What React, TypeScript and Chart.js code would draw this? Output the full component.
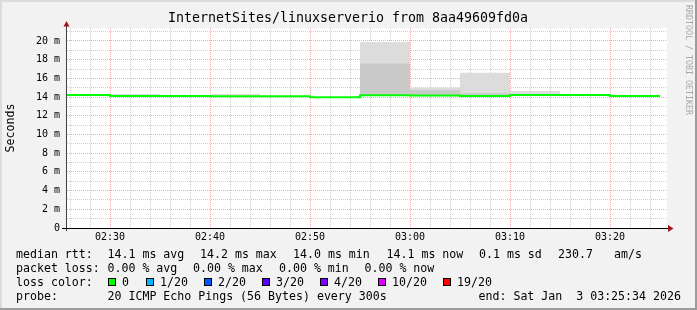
import React, { useEffect, useRef } from 'react';
import { Chart, registerables } from 'chart.js';

Chart.register(...registerables);

// ---------- data ----------
const binStarts = ['02:25', '02:30', '02:35', '02:40', '02:45', '02:50', '02:55', '03:00', '03:05', '03:10', '03:15', '03:20', '03:25'];
const medianRtt = [14.22, 14.12, 14.12, 14.1, 14.1, 13.98, 14.2, 14.17, 14.12, 14.22, 14.22, 14.12];
const smokeMax = [14.22, 14.32, 14.12, 14.32, 14.1, 13.98, 19.9, 15.0, 16.6, 14.65, 14.22, 14.12];
const smokeInner = [14.22, 14.12, 14.12, 14.1, 14.1, 13.98, 17.6, 14.75, 14.42, 14.22, 14.22, 14.12];
const smokeMin = [14.22, 14.12, 14.12, 14.1, 14.1, 13.98, 14.2, 14.17, 14.12, 14.22, 14.22, 14.12];

const xTickLabels = ['02:30', '02:40', '02:50', '03:00', '03:10', '03:20'];
const yTickValues = [0, 2, 4, 6, 8, 10, 12, 14, 16, 18, 20];
const yMinorValues = [1, 3, 5, 7, 9, 11, 13, 15, 17, 19, 21];
const xMinorLabels = ['02:26', '02:28', '02:32', '02:34', '02:36', '02:38', '02:42', '02:44', '02:46', '02:48', '02:52', '02:54', '02:56', '02:58', '03:02', '03:04', '03:06', '03:08', '03:12', '03:14', '03:16', '03:18', '03:22', '03:24'];
const axisStart = '02:25:42';
const axisEnd = '03:25:42';
const yMax = 21.39;

const titleText = 'InternetSites/linuxserverio from 8aa49609fd0a';
const yAxisTitle = 'Seconds';
const watermark = 'RRDTOOL / TOBI OETIKER';

const rttLabel = 'median rtt:';
const rttStats = ['14.1 ms avg', '14.2 ms max', '14.0 ms min', '14.1 ms now', '0.1 ms sd', '230.7', 'am/s'];
const lossLabel = 'packet loss:';
const lossStats = ['0.00 % avg', '0.00 % max', '0.00 % min', '0.00 % now'];
const lossColorLabel = 'loss color:';
const lossColorNames = ['0', '1/20', '2/20', '3/20', '4/20', '10/20', '19/20'];
const lossColors = ['#00ff00', '#00b8ff', '#0059ff', '#5e00ff', '#7e00ff', '#dd00ff', '#ff0000'];
const probeLabel = 'probe:';
const probeText = '20 ICMP Echo Pings (56 Bytes) every 300s';
const endText = 'end: Sat Jan  3 03:25:34 2026';

// ---------- helpers ----------
const toMin = (s: string) => {
  const p = s.split(':').map(Number);
  return p[0] * 60 + p[1] + (p[2] || 0) / 60;
};
const fmt = (v: number) => {
  const h = Math.floor(v / 60);
  const m = Math.round(v - h * 60);
  return `${String(h).padStart(2, '0')}:${String(m).padStart(2, '0')}`;
};
const pts = (vals: number[]) =>
  binStarts.map((t, i) => ({ x: toMin(t), y: vals[Math.min(i, vals.length - 1)] }));

const MONO = '"DejaVu Sans Mono", monospace';

// layout constants (drawing only)
const W = 697;
const H = 310;
const rttX = [107.5, 200, 293, 386.5, 479, 558, 614];
const lossX = [107.5, 193, 279, 364.5];
const boxX = [108, 146, 204, 262, 320, 378, 443];
const boxTextGap = 14;

const decorPlugin = {
  id: 'decor',
  beforeDraw(chart: any) {
    const { ctx, chartArea: a } = chart;
    ctx.save();
    ctx.fillStyle = '#f2f2f2';
    ctx.fillRect(0, 0, W, H);
    // frame
    ctx.fillStyle = '#dcdcdc';
    ctx.fillRect(0, 0, W, 2);
    ctx.fillRect(0, 0, 2, H);
    ctx.fillStyle = '#9c9c9c';
    ctx.fillRect(W - 2, 0, 2, H);
    ctx.fillRect(0, H - 2, W, 2);
    ctx.fillStyle = '#ffffff';
    ctx.fillRect(a.left, a.top, a.right - a.left, a.bottom - a.top);
    ctx.restore();
  },
  afterDraw(chart: any) {
    const { ctx, chartArea: a } = chart;
    ctx.save();
    // y axis
    ctx.strokeStyle = '#404040';
    ctx.lineWidth = 1;
    ctx.beginPath();
    ctx.moveTo(a.left - 0.5, a.bottom + 3);
    ctx.lineTo(a.left - 0.5, a.top - 2);
    ctx.stroke();
    // x axis
    ctx.strokeStyle = '#000000';
    ctx.beginPath();
    ctx.moveTo(a.left - 5, a.bottom + 0.5);
    ctx.lineTo(a.right + 1, a.bottom + 0.5);
    ctx.stroke();
    // arrows
    ctx.fillStyle = '#a01818';
    ctx.beginPath();
    ctx.moveTo(a.left - 3.5, a.top - 1.5);
    ctx.lineTo(a.left + 2.5, a.top - 1.5);
    ctx.lineTo(a.left - 0.5, a.top - 7);
    ctx.closePath();
    ctx.fill();
    ctx.beginPath();
    ctx.moveTo(a.right + 1, a.bottom - 3);
    ctx.lineTo(a.right + 1, a.bottom + 4);
    ctx.lineTo(a.right + 6.5, a.bottom + 0.5);
    ctx.closePath();
    ctx.fill();

    // title
    ctx.fillStyle = '#000';
    ctx.textBaseline = 'middle';
    ctx.textAlign = 'center';
    ctx.font = `13.3px ${MONO}`;
    ctx.fillText(titleText, 348, 19);

    // y axis title
    ctx.font = `11.6px ${MONO}`;
    ctx.save();
    ctx.translate(11, (a.top + a.bottom) / 2);
    ctx.rotate(-Math.PI / 2);
    ctx.fillText(yAxisTitle, 0, 0);
    ctx.restore();

    // watermark
    ctx.save();
    ctx.fillStyle = '#a8a8a8';
    ctx.font = `8.3px ${MONO}`;
    ctx.translate(688.5, 60);
    ctx.rotate(Math.PI / 2);
    ctx.fillText(watermark, 0, 0);
    ctx.restore();

    // legend
    ctx.textAlign = 'left';
    ctx.font = `11.6px ${MONO}`;
    ctx.fillStyle = '#000';
    const r1 = 254.5, r2 = 268.5, r3 = 282.5, r4 = 296.5;
    ctx.fillText(rttLabel, 16, r1);
    rttStats.forEach((s, i) => ctx.fillText(s, rttX[i], r1));
    ctx.fillText(lossLabel, 16, r2);
    lossStats.forEach((s, i) => ctx.fillText(s, lossX[i], r2));
    ctx.fillText(lossColorLabel, 16, r3);
    lossColorNames.forEach((s, i) => {
      ctx.fillStyle = lossColors[i];
      ctx.fillRect(boxX[i], 278, 8, 8);
      ctx.strokeStyle = '#000';
      ctx.strokeRect(boxX[i] + 0.5, 278.5, 7, 7);
      ctx.fillStyle = '#000';
      ctx.fillText(s, boxX[i] + boxTextGap, r3);
    });
    ctx.fillText(probeLabel, 16, r4);
    ctx.fillText(probeText, 107.5, r4);
    ctx.fillText(endText, 478.5, r4);
    ctx.restore();
  },
};

export default function App() {
  const ref = useRef<HTMLCanvasElement | null>(null);

  useEffect(() => {
    document.body.style.margin = '0';
    const canvas = ref.current;
    if (!canvas) return;
    const majorGrid = '#ffa4a4';
    const minorGrid = '#cfcfcf';
    const chart = new Chart(canvas, {
      type: 'line',
      data: {
        datasets: [
          {
            label: 'median rtt',
            data: pts(medianRtt),
            borderColor: '#00ff00',
            borderWidth: 2,
            stepped: true,
            pointRadius: 0,
            fill: false,
          },
          {
            label: 'smoke inner',
            data: pts(smokeInner),
            borderColor: 'rgba(0,0,0,0)',
            borderWidth: 0,
            backgroundColor: '#c9c9c9',
            stepped: true,
            pointRadius: 0,
            fill: 3,
          },
          {
            label: 'smoke max',
            data: pts(smokeMax),
            borderColor: 'rgba(0,0,0,0)',
            borderWidth: 0,
            backgroundColor: '#dcdcdc',
            stepped: true,
            pointRadius: 0,
            fill: 3,
          },
          {
            label: 'smoke min',
            data: pts(smokeMin),
            borderColor: 'rgba(0,0,0,0)',
            borderWidth: 0,
            stepped: true,
            pointRadius: 0,
            fill: false,
          },
        ],
      },
      options: {
        responsive: false,
        animation: false,
        events: [],
        layout: { padding: { top: 28, right: 30, bottom: 0, left: 0 } },
        plugins: { legend: { display: false }, title: { display: false }, tooltip: { enabled: false } },
        scales: {
          x: {
            type: 'linear',
            position: 'bottom',
            min: toMin(axisStart),
            max: toMin(axisEnd),
            afterBuildTicks: (s: any) => {
              s.ticks = xTickLabels.map((t) => ({ value: toMin(t) }));
            },
            afterFit: (s: any) => {
              s.height = 82;
            },
            grid: { color: majorGrid, lineWidth: 1, drawTicks: false },
            border: { display: false, dash: [1, 1] },
            ticks: {
              padding: 3.5,
              autoSkip: false,
              maxRotation: 0,
              color: '#000',
              font: { family: MONO, size: 10 },
              callback: (v: any) => fmt(Number(v)),
            },
          },
          x2: {
            type: 'linear',
            position: 'top',
            min: toMin(axisStart),
            max: toMin(axisEnd),
            afterBuildTicks: (s: any) => {
              s.ticks = xMinorLabels.map((t) => ({ value: toMin(t) }));
            },
            afterFit: (s: any) => {
              s.height = 0;
            },
            grid: { color: minorGrid, lineWidth: 1, drawTicks: false, z: -1 },
            border: { display: false, dash: [1, 1] },
            ticks: { display: false },
          },
          y: {
            type: 'linear',
            position: 'left',
            min: 0,
            max: yMax,
            afterBuildTicks: (s: any) => {
              s.ticks = yTickValues.map((v) => ({ value: v }));
            },
            afterFit: (s: any) => {
              s.width = 67;
            },
            grid: { color: majorGrid, lineWidth: 1, drawTicks: false },
            border: { display: false, dash: [1, 1] },
            ticks: {
              padding: 7,
              color: '#000',
              font: { family: MONO, size: 10 },
              callback: (v: any) => (Number(v) === 0 ? '0' : `${v} m`),
            },
          },
          y2: {
            type: 'linear',
            position: 'right',
            min: 0,
            max: yMax,
            afterBuildTicks: (s: any) => {
              s.ticks = yMinorValues.map((v) => ({ value: v }));
            },
            afterFit: (s: any) => {
              s.width = 0;
            },
            grid: { color: minorGrid, lineWidth: 1, drawTicks: false, z: -1 },
            border: { display: false, dash: [1, 1] },
            ticks: { display: false },
          },
        },
      } as any,
      plugins: [decorPlugin],
    });
    return () => chart.destroy();
  }, []);

  return (
    <div style={{ position: 'absolute', left: 0, top: 0, width: W, height: H }}>
      <canvas ref={ref} width={W} height={H} style={{ width: W, height: H, display: 'block' }} />
    </div>
  );
}
